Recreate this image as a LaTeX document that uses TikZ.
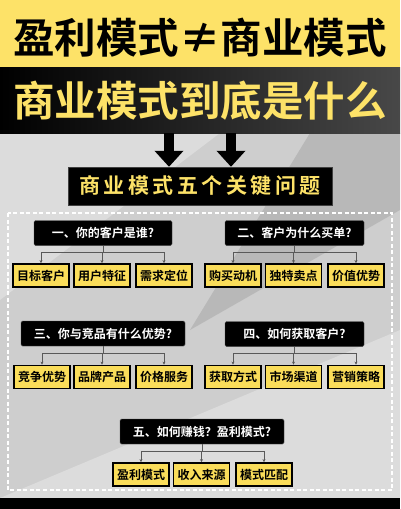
\documentclass[tikz,border=0pt]{standalone}
\usepackage{fontspec}
\usepackage{xcolor}
\usetikzlibrary{arrows.meta}
\newfontfamily\cjk{Noto Sans CJK SC}[BoldFont={Noto Sans CJK SC Bold}]

\definecolor{topyellow}{RGB}{253,226,104}
\definecolor{boxyellow}{RGB}{250,221,90}
\definecolor{bggray}{RGB}{206,206,206}
\definecolor{bglight}{RGB}{220,220,220}
\definecolor{bgdark}{RGB}{184,184,184}

\tikzset{
  headbox/.style={fill=black, draw=gray!60!black, rounded corners=1.5pt,
    text=white, font=\cjk\bfseries\fontsize{12}{12}\selectfont,
    minimum height=25pt, inner sep=0pt},
  itembox/.style={fill=boxyellow, draw=black, line width=1.8pt,
    font=\cjk\bfseries\fontsize{12}{12}\selectfont,
    minimum width=56pt, minimum height=23pt, inner sep=0pt},
  conn/.style={draw=gray!70!black, line width=0.6pt, -{Stealth[length=3pt,width=3pt]}},
  bigarrow/.style={line width=10pt, -{Triangle[width=28pt,length=16pt]}}
}

\begin{document}
\begin{tikzpicture}[x=1pt,y=-1pt]
\useasboundingbox (0,0) rectangle (400,509);
% background
\fill[bggray] (0,133) rectangle (400,498);
\fill[bglight] (0,133) -- (220,133) -- (0,300) -- cycle;
\fill[bglight] (0,498) -- (400,330) -- (400,498) -- cycle;
\fill[bgdark] (310,133) -- (400,133) -- (400,210) -- (190,330) -- cycle;
\fill[black] (0,498) rectangle (400,509);
\fill[topyellow] (0,0) rectangle (400,67);
\shade[left color=black, right color={rgb,255:red,72;green,72;blue,72}] (0,67) rectangle (400,133);

% titles
\node (maintitle) at (200,38) {\cjk\bfseries\fontsize{41.5}{42}\selectfont 盈利模式≠商业模式};
\node[text=topyellow] (subtitle) at (200,101) {\cjk\bfseries\fontsize{41.5}{42}\selectfont 商业模式到底是什么};
\node[fill=black, draw=gray!50!black, minimum width=264pt, minimum height=38pt, inner sep=0pt,
  text=topyellow] (keytitle) at (200,186)
  {\cjk\bfseries\fontsize{21}{21}\selectfont 商\,业\,模\,式\,五\,个\,关\,键\,问\,题};

% two arrows
\coordinate (a1) at (169,133);
\coordinate (a2) at (231,133);
\draw[bigarrow] (a1) -- (a1 |- keytitle.north);
\draw[bigarrow] (a2) -- (a2 |- keytitle.north);

% frame
\draw[white, line width=1.4pt, dash pattern=on 4pt off 2.5pt] (8,213) rectangle (392,490);

% question 1
\node[headbox, minimum width=138pt] (q1) at (103,233) {一、你的客户是谁?};
\node[itembox] (q1a) at (41,275.5) {目标客户};
\node[itembox] (q1b) at (102,275.5) {用户特征};
\node[itembox] (q1c) at (164,275.5) {需求定位};
% question 2
\node[headbox, minimum width=139pt] (q2) at (294.5,233) {二、客户为什么买单?};
\node[itembox] (q2a) at (233,275.5) {购买动机};
\node[itembox] (q2b) at (293.5,275.5) {独特卖点};
\node[itembox] (q2c) at (356,275.5) {价值优势};
% question 3
\node[headbox, minimum width=164pt] (q3) at (103,333.5) {三、你与竞品有什么优势?};
\node[itembox] (q3a) at (42,377) {竞争优势};
\node[itembox] (q3b) at (102,377) {品牌产品};
\node[itembox] (q3c) at (164,377) {价格服务};
% question 4
\node[headbox, minimum width=139pt] (q4) at (294.5,334) {四、如何获取客户?};
\node[itembox] (q4a) at (233,377) {获取方式};
\node[itembox] (q4b) at (293.5,377) {市场渠道};
\node[itembox] (q4c) at (356,377) {营销策略};
% question 5
\node[headbox, minimum width=164pt] (q5) at (202,431.5) {五、如何赚钱？盈利模式?};
\node[itembox] (q5a) at (141,474.5) {盈利模式};
\node[itembox] (q5b) at (201.5,474.5) {收入来源};
\node[itembox] (q5c) at (264,474.5) {模式匹配};

% connectors
\foreach \q in {q1,q2,q3,q4,q5}
  \foreach \c in {a,b,c}
    \draw[conn] (\q.south) -- ++(0,7) -| (\q\c.north);
\end{tikzpicture}
\end{document}
